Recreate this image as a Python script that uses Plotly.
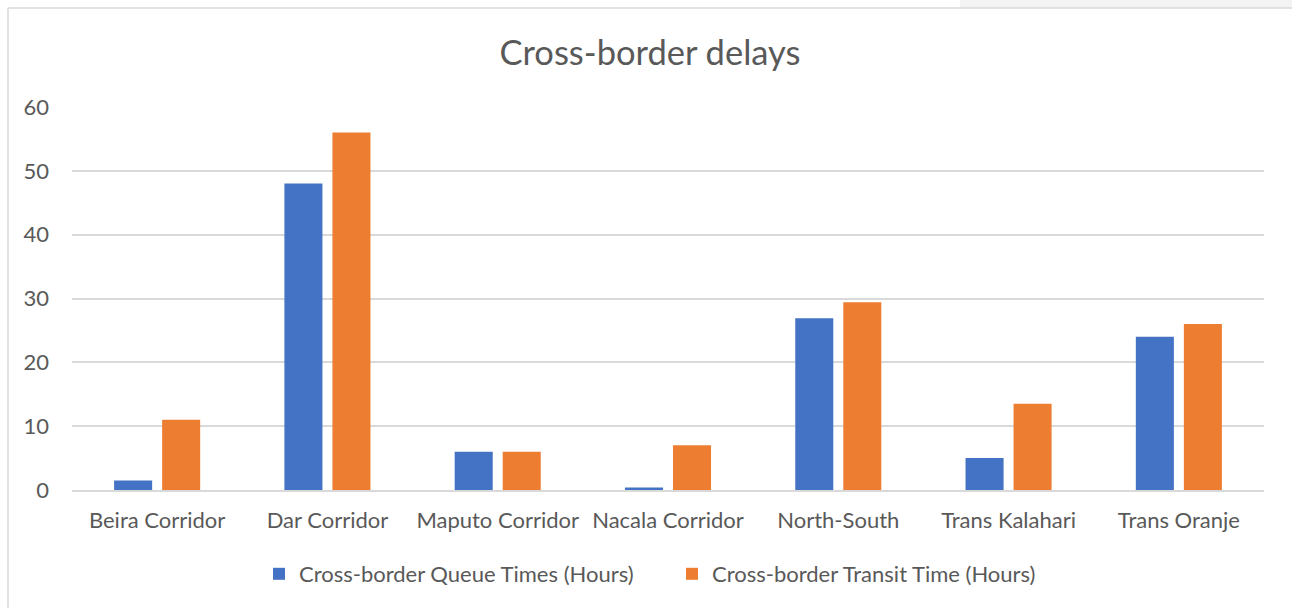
import plotly.graph_objects as go

categories = ["Beira Corridor", "Dar Corridor", "Maputo Corridor", "Nacala Corridor",
              "North-South", "Trans Kalahari", "Trans Oranje"]
queue_times = [1.5, 48, 6, 0.4, 26.9, 5, 24]
transit_times = [11, 56, 6, 7, 29.4, 13.5, 26]
series_names = ["Cross-border Queue Times (Hours)", "Cross-border Transit Time (Hours)"]
colors = ["#4472C4", "#ED7D31"]

W, H = 1292, 608
L, R, T, B = 72, 28, 107, 118
pw, ph = W - L - R, H - T - B

def px_x(x):
    return (x - L) / pw

def px_y(y):
    return (H - B - y) / ph

fig = go.Figure()
for name, vals, c in zip(series_names, [queue_times, transit_times], colors):
    fig.add_trace(go.Bar(x=categories, y=vals, name=name, marker=dict(color=c, line=dict(width=0))))

font_family = "Lato, 'Open Sans', sans-serif"
fs = 22
fig.update_layout(
    width=W, height=H,
    margin=dict(l=L, r=R, t=T, b=B, autoexpand=False),
    paper_bgcolor="white", plot_bgcolor="white",
    barmode="group", bargap=0.436, bargroupgap=0.208,
    title=dict(text="Cross-border delays", x=px_x(650), xref="paper", xanchor="center",
               y=1 - 53 / H, yanchor="middle",
               font=dict(family=font_family, size=34.5, color="#595959")),
    font=dict(family=font_family, size=fs, color="#595959"),
    xaxis=dict(showgrid=False, showline=True, linecolor="#d9d9d9", linewidth=1.5,
               ticks="", tickfont=dict(size=fs, color="#595959"), ticklabelstandoff=10),
    yaxis=dict(range=[0, 60], dtick=10, showgrid=True, gridcolor="#d9d9d9", gridwidth=1.5,
               zeroline=False, showline=False, ticks="", ticklabelstandoff=22,
               tickfont=dict(size=fs, color="#595959")),
    legend=dict(orientation="h", x=px_x(259), xanchor="left", y=px_y(574), yanchor="middle",
                font=dict(size=fs, color="#595959"), itemwidth=30,
                entrywidth=368, entrywidthmode="pixels",
                traceorder="normal", itemsizing="constant"),
    showlegend=True,
    shapes=[
        dict(type="rect", xref="paper", yref="paper", x0=px_x(960), x1=px_x(1300),
             y0=px_y(8), y1=px_y(-5), fillcolor="#f3f3f3", line=dict(width=0), layer="below"),
        dict(type="line", xref="paper", yref="paper", x0=px_x(8), x1=px_x(1300),
             y0=px_y(8), y1=px_y(8), line=dict(color="#d9d9d9", width=1.5)),
        dict(type="line", xref="paper", yref="paper", x0=px_x(8), x1=px_x(8),
             y0=px_y(8), y1=px_y(615), line=dict(color="#d9d9d9", width=1.5)),
    ],
)

fig.write_html("out.html", config={"displayModeBar": False},
               post_script="document.body.style.margin='0px';document.body.style.overflow='hidden';")
